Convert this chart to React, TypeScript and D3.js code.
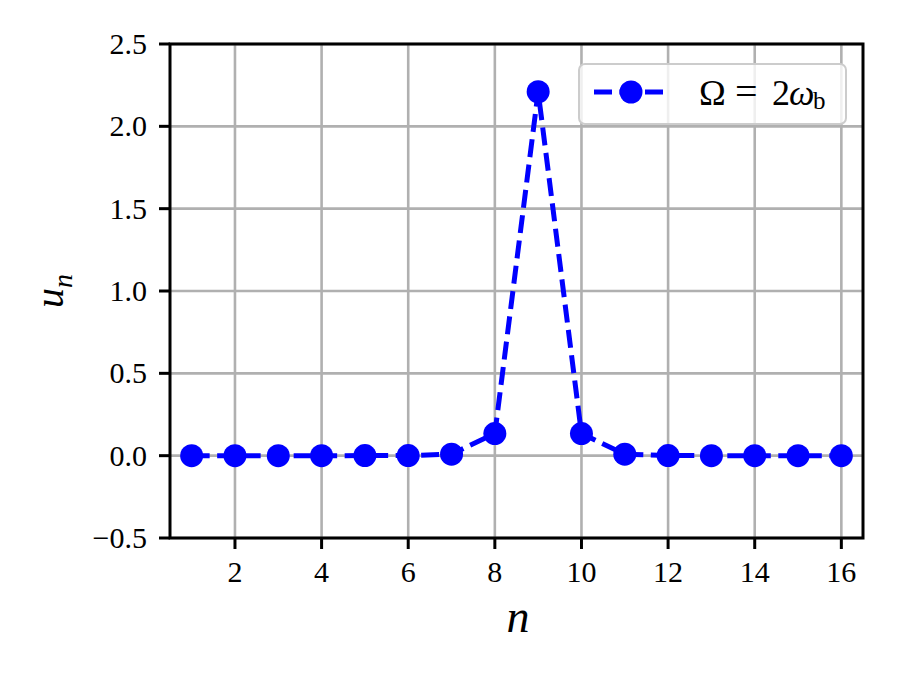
import React from "react";
import * as d3 from "d3";

const nValues = [1, 2, 3, 4, 5, 6, 7, 8, 9, 10, 11, 12, 13, 14, 15, 16];
const uValues = [0, 0, 0, 0.00003, 0.0004, 0.0006, 0.009, 0.134, 2.21, 0.134, 0.009, 0.0006, 0.00004, 0, 0, 0];
const xTicks = [2, 4, 6, 8, 10, 12, 14, 16];
const yTicks = [-0.5, 0, 0.5, 1.0, 1.5, 2.0, 2.5];

const W = 897;
const H = 673;
const margin = { top: 44, right: 34, bottom: 135, left: 170 };
const font = "'Liberation Serif', 'DejaVu Serif', serif";
const blue = "#0000ff";

const App = () => {
  const x = d3.scaleLinear().domain([0.5, 16.5]).range([margin.left, W - margin.right]);
  const y = d3.scaleLinear().domain([-0.5, 2.5]).range([H - margin.bottom, margin.top]);
  const line = d3
    .line<number>()
    .x((_, i) => x(nValues[i]))
    .y((d) => y(d));

  const fmt = (v: number) => (v < 0 ? "\u2212" : "") + Math.abs(v).toFixed(1);
  const x0 = margin.left, x1 = W - margin.right, y0 = margin.top, y1 = H - margin.bottom;

  return (
    <svg width={W} height={H} style={{ display: "block", position: "absolute", left: 0, top: 0 }}>
      <rect width={W} height={H} fill="white" />
      {/* grid */}
      <g stroke="#b0b0b0" strokeWidth={2.6}>
        {xTicks.map((t) => (
          <line key={"gx" + t} x1={x(t)} x2={x(t)} y1={y0} y2={y1} />
        ))}
        {yTicks.map((t) => (
          <line key={"gy" + t} x1={x0} x2={x1} y1={y(t)} y2={y(t)} />
        ))}
      </g>
      {/* data */}
      <path d={line(uValues) || ""} fill="none" stroke={blue} strokeWidth={5} strokeDasharray="18,7.5" />
      {uValues.map((d, i) => (
        <circle key={i} cx={x(nValues[i])} cy={y(d)} r={11.5} fill={blue} />
      ))}
      {/* spines */}
      <rect x={x0} y={y0} width={x1 - x0} height={y1 - y0} fill="none" stroke="black" strokeWidth={3} />
      {/* ticks */}
      <g stroke="black" strokeWidth={3}>
        {xTicks.map((t) => (
          <line key={"tx" + t} x1={x(t)} x2={x(t)} y1={y1} y2={y1 + 11} />
        ))}
        {yTicks.map((t) => (
          <line key={"ty" + t} x1={x0} x2={x0 - 11} y1={y(t)} y2={y(t)} />
        ))}
      </g>
      <g fontFamily={font} fontSize={30} fill="black">
        {xTicks.map((t) => (
          <text key={"lx" + t} x={x(t)} y={y1 + 44} textAnchor="middle">
            {t}
          </text>
        ))}
        {yTicks.map((t) => (
          <text key={"ly" + t} x={x0 - 23} y={y(t) + 10} textAnchor="end">
            {fmt(t)}
          </text>
        ))}
      </g>
      {/* axis labels */}
      <text x={518} y={632} textAnchor="middle" fontFamily={font} fontStyle="italic" fontSize={46}>
        n
      </text>
      <text
        transform={`translate(63, ${(y0 + y1) / 2}) rotate(-90)`}
        textAnchor="middle"
        fontFamily={font}
        fontStyle="italic"
        fontSize={40}
      >
        u<tspan fontSize={28} dy={9}>n</tspan>
      </text>
      {/* legend */}
      <rect x={579} y={64} width={267} height={60} rx={6} fill="white" fillOpacity={0.8} stroke="#cccccc" strokeWidth={2} />
      <line x1={594} x2={668} y1={92} y2={92} stroke={blue} strokeWidth={5} strokeDasharray="18,7.5" />
      <circle cx={631} cy={92} r={11.5} fill={blue} />
      <g fontFamily={font} fill="black">
        <text x={699} y={105} fontSize={36}>{"\u03A9"}</text>
        <text x={735} y={105} fontSize={40}>=</text>
        <text x={772} y={105} fontSize={36}>2</text>
        <text x={789} y={105} fontSize={36} fontStyle="italic">{"\u03C9"}</text>
        <text x={813} y={109} fontSize={25}>b</text>
      </g>
    </svg>
  );
};

export default App;
